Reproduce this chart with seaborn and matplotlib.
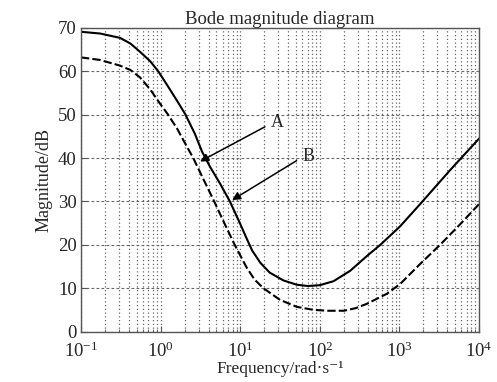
import numpy as np
import pandas as pd
import seaborn as sns
import matplotlib.pyplot as plt
from matplotlib.ticker import LogLocator, NullFormatter

# curva A (continua)
freq_a = [0.1, 0.174, 0.309, 0.417, 0.55, 0.741, 0.933, 1.2, 1.62, 2.04, 2.69, 3.31, 4.17, 5.62,
          7.41, 10, 12.0, 14.1, 17.8, 23.4, 34.7, 51.3, 70.8, 100, 148, 240, 389, 575, 1023, 1820,
          4365, 10000]
mag_a = [69.1, 68.7, 67.7, 66.4, 64.5, 62.3, 60.0, 56.9, 53.1, 50.1, 45.6, 41.5, 38.0, 34.0,
         30.0, 24.8, 21.5, 18.7, 15.9, 13.6, 11.8, 10.8, 10.5, 10.7, 11.6, 14.0, 17.4, 20.0, 24.3,
         29.4, 37.3, 44.5]

# curva B (tratteggiata)
freq_b = [0.1, 0.174, 0.309, 0.417, 0.55, 0.741, 0.977, 1.23, 1.62, 2.14, 2.57, 3.47, 4.57, 6.31,
          8.51, 12.0, 15.1, 19.5, 31.6, 51.3, 83.2, 126, 200, 282, 389, 692, 1023, 1820, 3236,
          5754, 10000]
mag_b = [63.2, 62.6, 61.3, 60.3, 58.6, 55.8, 52.6, 50.1, 46.7, 42.6, 40.0, 35.0, 30.5, 25.0,
         20.0, 14.8, 12.0, 10.0, 7.3, 5.7, 5.0, 4.8, 4.8, 5.4, 6.4, 8.7, 11.0, 15.6, 20.0, 24.7,
         29.4]

df = pd.concat([
    pd.DataFrame({"freq": freq_a, "mag": mag_a, "curva": "A"}),
    pd.DataFrame({"freq": freq_b, "mag": mag_b, "curva": "B"}),
])

sns.set_style("ticks")
plt.rcParams['font.family'] = ['Liberation Serif', 'DejaVu Serif']
plt.rcParams['mathtext.fontset'] = 'stix'
plt.rcParams['lines.solid_joinstyle'] = 'round'
plt.rcParams['lines.dash_joinstyle'] = 'round'

fig = plt.figure(figsize=(4.97, 3.82), dpi=100)
ax = fig.add_axes([0.163, 0.132, 0.801, 0.795])

sns.lineplot(data=df, x="freq", y="mag", hue="curva", style="curva",
             palette=["black", "black"], dashes=[(None, None), (4, 1.5)],
             linewidth=1.5, legend=False, ax=ax, sort=False)

ax.set_xscale("log")
ax.set_xlim(0.1, 1e4)
ax.set_ylim(0, 70)
ax.set_yticks(range(0, 71, 10))
ax.xaxis.set_major_locator(LogLocator(base=10, numticks=10))
ax.xaxis.set_minor_locator(LogLocator(base=10, subs=np.arange(2, 10), numticks=50))
ax.xaxis.set_minor_formatter(NullFormatter())

ax.grid(True, which="major", axis="y", color="#666666", linestyle=(0, (2.5, 2)), linewidth=0.8)
ax.grid(True, which="both", axis="x", color="#666666", linestyle=(0, (1, 2)), linewidth=0.9)
ax.tick_params(direction="in", labelsize=13.5, length=4, color="#555555", pad=3)
ax.tick_params(axis="x", pad=7)
ax.tick_params(which="minor", direction="in", length=2.5, color="#555555")
for s in ax.spines.values():
    s.set_color("#555555")
    s.set_linewidth(1.0)

ax.set_title("Bode magnitude diagram", fontsize=13.5, pad=3)
ax.set_xlabel("Frequency/rad·s⁻¹", fontsize=12.5, labelpad=0)
ax.set_ylabel("Magnitude/dB", fontsize=13, labelpad=4)

arrow = dict(arrowstyle="-|>", color="black", lw=1.1, mutation_scale=12, shrinkA=0, shrinkB=0)
ax.annotate("", xy=(3.13, 39.2), xytext=(20.4, 47.2), arrowprops=arrow)
ax.text(29, 48.3, "A", fontsize=13, ha="center", va="center")
ax.annotate("", xy=(7.9, 30.3), xytext=(51, 39.4), arrowprops=arrow)
ax.text(71, 40.3, "B", fontsize=13, ha="center", va="center")

fig.savefig("out.png", dpi=100)
